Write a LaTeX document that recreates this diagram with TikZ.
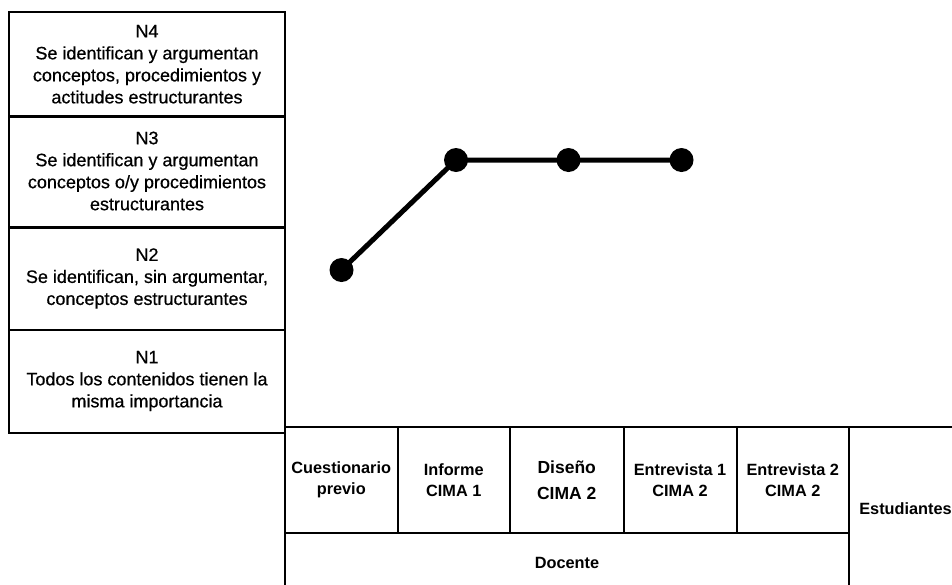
\documentclass[tikz,border=0pt]{standalone}
\usepackage{fontspec}
\setmainfont{Liberation Sans}
\newfontfamily\medfont[FakeBold=0.6]{Liberation Sans}
\begin{document}
\begin{tikzpicture}[x=1pt,y=-1pt,
  level/.style={draw,line width=2pt,minimum width=276pt,inner sep=0pt,
    align=center,font=\medfont\fontsize{18}{22}\selectfont},
  cell/.style={draw,line width=2pt,inner sep=0pt,align=center,
    font=\fontsize{16.3}{21}\selectfont\bfseries},
  dot/.style={circle,fill=black,minimum size=24pt,inner sep=0pt},
  link/.style={line width=5pt}]
\useasboundingbox (0,0) rectangle (952,584);

% level boxes
\node[level,minimum height=104.5pt] (n4) at (147,64.25)
  {N4\\Se identifican y argumentan\\conceptos, procedimientos y\\actitudes estructurantes};
\node[level,minimum height=111pt] (n3) at (147,171)
  {N3\\Se identifican y argumentan\\conceptos o/y procedimientos\\estructurantes};
\node[level,minimum height=102pt] (n2) at (147,278.5)
  {N2\\Se identifican, sin argumentar,\\conceptos estructurantes};
\node[level,minimum height=103pt] (n1) at (147,381)
  {N1\\Todos los contenidos tienen la\\misma importancia};

% instrument table
\node[cell,minimum width=112.5pt,minimum height=106pt] (c1) at (341.25,480) {Cuestionario\\previo};
\node[cell,minimum width=112.5pt,minimum height=106pt] (c2) at (453.75,480) {Informe\\CIMA 1};
\node[cell,minimum width=113.5pt,minimum height=106pt,font=\fontsize{17.5}{26}\selectfont\bfseries] (c3) at (566.75,480) {Diseño\\CIMA 2};
\node[cell,minimum width=113pt,minimum height=106pt] (c4) at (680,480) {Entrevista 1\\CIMA 2};
\node[cell,minimum width=112.5pt,minimum height=106pt] (c5) at (792.75,480) {Entrevista 2\\CIMA 2};
\node[cell,minimum width=564pt,minimum height=60pt] (doc) at (567,563) {Docente};
\node[cell,minimum width=113pt,minimum height=164pt] (est) at (905.5,509) {Estudiantes};

% trajectory
\node[dot] (p1) at (341.5,270) {};
\node[dot] (p2) at (456,160) {};
\node[dot] (p3) at (568.5,160) {};
\node[dot] (p4) at (681.5,160) {};
\draw[link] (p1.center) -- (p2.center) -- (p3.center) -- (p4.center);
\end{tikzpicture}
\end{document}
